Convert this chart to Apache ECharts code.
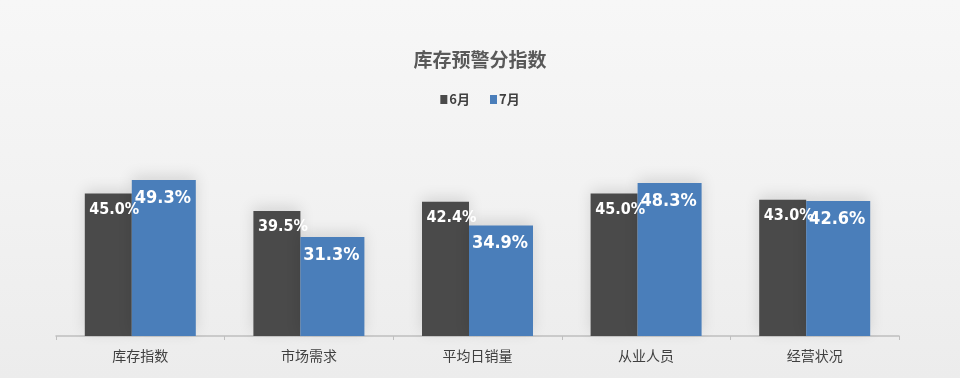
<!DOCTYPE html>
<html>
<head>
<meta charset="utf-8">
<script src="https://cdn.jsdelivr.net/npm/echarts@6/dist/echarts.min.js"></script>
<style>
  html, body { margin: 0; padding: 0; }
  #main { width: 960px; height: 378px; }
</style>
</head>
<body>
<div id="main"></div>
<script>
// 数据
var categories = ['库存指数', '市场需求', '平均日销量', '从业人员', '经营状况'];
var june = [45.0, 39.5, 42.4, 45.0, 43.0];
var july = [49.3, 31.3, 34.9, 48.3, 42.6];

var myChart = echarts.init(document.getElementById('main'));

// 窄体粗字（condensed），接近原图的标签字体
var labelFont = '"DejaVu Sans", sans-serif';

var option = {
    backgroundColor: {
        type: 'linear', x: 0, y: 0, x2: 0, y2: 1,
        colorStops: [
            { offset: 0, color: '#f7f7f7' },
            { offset: 0.5, color: '#f2f2f2' },
            { offset: 1, color: '#ececec' }
        ]
    },
    title: {
        text: '库存预警分指数',
        left: 'center',
        top: 45,
        textStyle: {
            fontFamily: '"Noto Sans CJK SC", sans-serif',
            fontSize: 19,
            fontWeight: 'bold',
            color: '#595959'
        }
    },
    legend: {
        data: ['6月', '7月'],
        top: 88,
        left: 'center',
        itemWidth: 7,
        itemHeight: 9,
        itemGap: 20,
        icon: 'rect',
        textStyle: {
            fontFamily: '"Noto Sans CJK SC", sans-serif',
            fontSize: 13,
            fontWeight: 'bold',
            color: '#404040',
            padding: [0, 0, 0, -3]
        }
    },
    grid: {
        left: 56,
        right: 61,
        top: 146,
        bottom: 42
    },
    xAxis: {
        type: 'category',
        data: categories,
        axisLine: { lineStyle: { color: '#bfbfbf', width: 1.5 } },
        axisTick: { show: true, length: 4, lineStyle: { color: '#bfbfbf' } },
        axisLabel: {
            fontFamily: '"Noto Sans CJK SC", sans-serif',
            fontSize: 14,
            color: '#404040',
            margin: 13
        }
    },
    yAxis: {
        type: 'value',
        min: 0,
        max: 60,
        show: false,
        splitLine: { show: false }
    },
    series: [{
        name: '6月',
        type: 'bar',
        data: june,
        barWidth: 47,
        barGap: 0,
        itemStyle: {
            color: '#4a4a4a',
            shadowBlur: 14,
            shadowColor: 'rgba(0,0,0,0.12)',
            shadowOffsetY: -4
        },
        label: {
            show: true,
            position: 'insideTop',
            distance: 8,
            offset: [6, 0],
            formatter: function (p) { return p.value.toFixed(1) + '%'; },
            fontFamily: labelFont,
            fontStyle: 'condensed',
            fontWeight: 'bold',
            fontSize: 16,
            color: '#ffffff'
        }
    }, {
        name: '7月',
        type: 'bar',
        data: july,
        barWidth: 64,
        itemStyle: {
            color: '#4a7eba',
            shadowBlur: 14,
            shadowColor: 'rgba(0,0,0,0.12)',
            shadowOffsetY: -4
        },
        label: {
            show: true,
            position: 'insideTop',
            distance: 9,
            offset: [-1, 0],
            formatter: function (p) { return p.value.toFixed(1) + '%'; },
            fontFamily: labelFont,
            fontStyle: 'condensed',
            fontWeight: 'bold',
            fontSize: 18,
            color: '#ffffff'
        }
    }]
};

myChart.setOption(option);
</script>
</body>
</html>
